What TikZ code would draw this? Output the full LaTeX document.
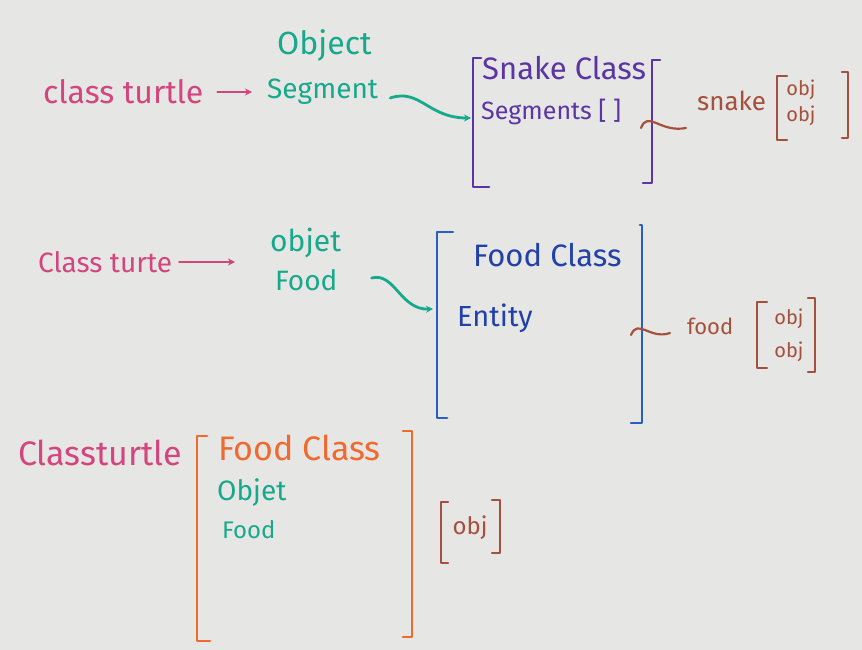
\documentclass[tikz,border=0pt]{standalone}
\usepackage{fontspec}
\setmainfont{Fira Sans}
\usetikzlibrary{arrows.meta}
\definecolor{board}{HTML}{E6E6E4}
\definecolor{mpink}{HTML}{D2457F}
\definecolor{mteal}{HTML}{17A98B}
\definecolor{mpurple}{HTML}{5B35A3}
\definecolor{mblue}{HTML}{2A5FC0}
\definecolor{mdblue}{HTML}{2140A8}
\definecolor{mbrown}{HTML}{A5503C}
\definecolor{morange}{HTML}{EE6A30}
\tikzset{
  txt/.style={inner sep=0pt, anchor=west},
  fs/.style={font=\fontsize{#1}{#1}\selectfont},
  small/.style={font=\fontsize{20}{20}\selectfont, inner sep=0pt},
  pen/.style={line width=2.8pt, line cap=round, line join=round},
  thin/.style={line width=2.2pt, line cap=round, line join=round},
  tip/.style={-{Stealth[length=7pt,width=7pt]}}
}
\begin{document}
\begin{tikzpicture}[x=1pt,y=-1pt]
\fill[board] (0,0) rectangle (862,650);
\useasboundingbox (0,0) rectangle (862,650);

% ---------- row 1 ----------
\node[txt, fs=32, mpink] (t1) at (43,92) {class turtle};
\node[txt, fs=32, mteal] (o1) at (277,45) {Object};
\node[txt, fs=28, mteal] (s1) at (267,92) {Segment};
\draw[thin, mpink, tip, shorten <=14pt, shorten >=15pt] (t1.east) -- (t1.east -| s1.west);
\node[txt, fs=31, mpurple] (k1) at (482,68) {Snake Class};
\node[txt, fs=25, mpurple] (g1) at (481,112) {Segments [ ]};
\draw[pen, mpurple] (481,58) -- (473,58) -- (473,187) -- (489,187);
\draw[pen, mpurple] (660,60) -- (652,60) -- (652,183) -- (643,183);
\coordinate (b1w) at (471,118);
\draw[pen, mteal, tip] (s1.east) ++(12,6) coordinate (c1s)
  .. controls (420,88) and (428,118) .. (b1w);
\coordinate (w1a) at (641,128);
\coordinate (w1b) at (686,128);
\node[txt, fs=26, mbrown] (n1) at (697,101) {snake};
\draw[thin, mbrown] (w1a) .. controls (648,110) and (660,133) .. (w1b);
\draw[thin, mbrown] (787,76) -- (777,76) -- (777,140) -- (787,140);
\draw[thin, mbrown] (842,72) -- (848,72) -- (848,138) -- (842,138);
\node[small, mbrown] (a1) at (801,90) {obj};
\node[small, mbrown] (a2) at (801,116) {obj};

% ---------- row 2 ----------
\node[txt, fs=28, mpink] (t2) at (38,262) {Class turte};
\node[txt, fs=30, mteal] (o2) at (270,243) {objet};
\node[txt, fs=28, mteal] (f2) at (275,280) {Food};
\draw[thin, mpink, tip, shorten <=7pt, shorten >=40pt] (t2.east) -- (t2.east -| f2.west);
\node[txt, fs=31, mdblue] (k2) at (473,255) {Food Class};
\node[txt, fs=29, mdblue] (e2) at (457,318) {Entity};
\draw[pen, mblue] (453,232) -- (437,232) -- (437,418) -- (447,418);
\draw[pen, mblue] (640,225) -- (642,225) -- (642,423) -- (631,423);
\coordinate (b2w) at (433,309);
\draw[pen, mteal, tip] (f2.east) ++(34,-2) coordinate (c2s)
  .. controls (395,272) and (400,310) .. (b2w);
\coordinate (w2a) at (631,335);
\coordinate (w2b) at (670,333);
\node[txt, fs=22, mbrown] (n2) at (687,326) {food};
\draw[thin, mbrown] (w2a) .. controls (638,318) and (650,340) .. (w2b);
\draw[thin, mbrown] (767,302) -- (757,302) -- (757,368) -- (767,368);
\draw[thin, mbrown] (808,298) -- (815,298) -- (815,372) -- (808,372);
\node[small, mbrown] (a3) at (789,319) {obj};
\node[small, mbrown] (a4) at (789,352) {obj};

% ---------- row 3 ----------
\node[txt, fs=34, mpink] (t3) at (18,453) {Classturtle};
\node[txt, fs=34, morange] (k3) at (218,448) {Food Class};
\node[txt, fs=28, mteal] (o3) at (217,493) {Objet};
\node[txt, fs=24, mteal] (f3) at (222,530) {Food};
\draw[pen, morange] (207,436) -- (197,436) -- (197,641) -- (210,641);
\draw[pen, morange] (403,431) -- (412,431) -- (412,637) -- (403,637);
\draw[thin, mbrown] (448,502) -- (441,502) -- (441,563) -- (448,563);
\draw[thin, mbrown] (492,500) -- (500,500) -- (500,553) -- (492,553);
\node[small, fs=24, mbrown] (a5) at (470,528) {obj};
\end{tikzpicture}
\end{document}
